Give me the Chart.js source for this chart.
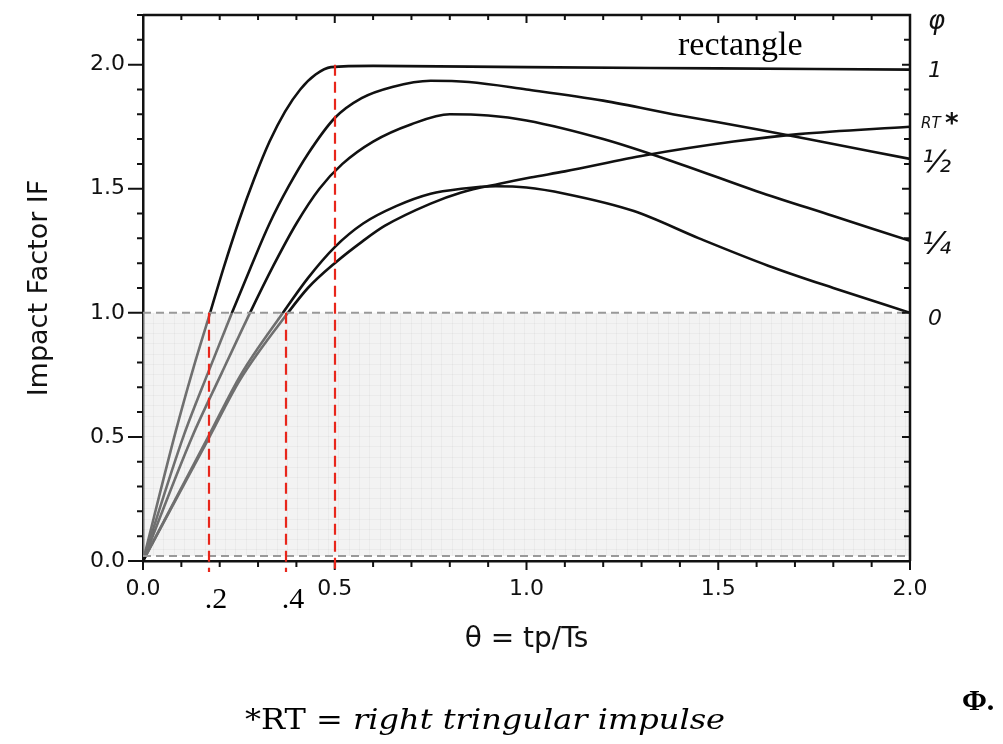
<!DOCTYPE html>
<html>
<head>
<meta charset="utf-8">
<script src="https://cdn.jsdelivr.net/npm/chart.js@4"></script>
<style>
html, body { margin: 0; padding: 0; background: #fff; }
canvas { display: block; }
</style>
</head>
<body>
<canvas id="impactChart" width="1003" height="744"></canvas>
<script>
// theta = tp/Ts against impact factor, one pair of arrays per pulse shape (phi)
var thetaRect = [0, 0.085, 0.13, 0.175, 0.21, 0.25, 0.29, 0.33, 0.37, 0.41, 0.45, 0.49, 0.6, 1.0, 1.5, 2.0];
var ifRect = [0, 0.52, 0.77, 1.00, 1.18, 1.37, 1.54, 1.69, 1.81, 1.90, 1.96, 1.99, 1.995, 1.99, 1.985, 1.98];

var thetaHalf = [0, 0.105, 0.17, 0.232, 0.28, 0.33, 0.38, 0.43, 0.5, 0.57, 0.65, 0.75, 0.85, 1.0, 1.2, 1.4, 1.6, 1.8, 2.0];
var ifHalf = [0, 0.50, 0.76, 1.00, 1.18, 1.36, 1.51, 1.64, 1.785, 1.865, 1.91, 1.935, 1.93, 1.90, 1.855, 1.795, 1.74, 1.68, 1.62];

var thetaQuarter = [0, 0.128, 0.206, 0.279, 0.34, 0.40, 0.46, 0.52, 0.6, 0.7, 0.8, 0.9, 1.0, 1.2, 1.4, 1.6, 1.8, 2.0];
var ifQuarter = [0, 0.50, 0.76, 1.00, 1.19, 1.36, 1.50, 1.60, 1.69, 1.76, 1.80, 1.795, 1.775, 1.70, 1.60, 1.49, 1.39, 1.29];

var thetaZero = [0, 0.17, 0.255, 0.365, 0.43, 0.5, 0.574, 0.66, 0.75, 0.83, 0.92, 1.0, 1.1, 1.28, 1.45, 1.63, 1.8, 2.0];
var ifZero = [0, 0.50, 0.75, 1.00, 1.14, 1.265, 1.36, 1.43, 1.48, 1.50, 1.51, 1.505, 1.48, 1.41, 1.30, 1.19, 1.10, 1.00];

var thetaRT = [0, 0.17, 0.253, 0.378, 0.43, 0.5, 0.574, 0.63, 0.75, 0.83, 0.93, 1.01, 1.10, 1.31, 1.54, 1.71, 2.0];
var ifRT = [0, 0.49, 0.73, 1.00, 1.10, 1.20, 1.29, 1.35, 1.44, 1.485, 1.52, 1.545, 1.57, 1.635, 1.69, 1.72, 1.75];

var phiLabels = ['1', '½', '¼', '0', 'RT'];

// red dashed markers: theta, top of the line, text under the axis
var markerTheta = [0.172, 0.373, 0.5];
var markerTop = [1.0, 1.0, 2.0];
var markerText = ['.2', '.4', ''];

// grey band
var bandLow = 0.02;
var bandHigh = 1.0;

function toPoints(xs, ys) {
    return xs.map(function (x, i) { return { x: x, y: ys[i] }; });
}

var seriesX = [thetaRect, thetaHalf, thetaQuarter, thetaZero, thetaRT];
var seriesY = [ifRect, ifHalf, ifQuarter, ifZero, ifRT];

var datasets = seriesX.map(function (xs, i) {
    return {
        label: phiLabels[i],
        data: toPoints(xs, seriesY[i]),
        borderColor: '#111',
        borderWidth: 2.6,
        pointRadius: 0,
        cubicInterpolationMode: 'monotone',
        fill: false
    };
});

var plotFont = 'DejaVu Sans';

var extrasPlugin = {
    id: 'extras',
    afterDatasetsDraw: function (chart) {
        var ctx = chart.ctx;
        var xs = chart.scales.x;
        var ys = chart.scales.y;

        // shaded band laid over the curves
        var x0 = xs.getPixelForValue(0), x1 = xs.getPixelForValue(2);
        var yTop = ys.getPixelForValue(bandHigh), yBot = ys.getPixelForValue(bandLow);
        ctx.save();
        ctx.fillStyle = 'rgba(228,228,228,0.45)';
        ctx.fillRect(x0, yTop, x1 - x0, yBot - yTop);
        ctx.strokeStyle = 'rgba(0,0,0,0.035)';
        ctx.lineWidth = 1;
        ctx.beginPath();
        for (var gx = x0 + 10; gx < x1; gx += 10.3) {
            ctx.moveTo(Math.round(gx) + 0.5, yTop);
            ctx.lineTo(Math.round(gx) + 0.5, yBot);
        }
        for (var gy = yTop + 10; gy < yBot; gy += 10.3) {
            ctx.moveTo(x0, Math.round(gy) + 0.5);
            ctx.lineTo(x1, Math.round(gy) + 0.5);
        }
        ctx.stroke();
        ctx.strokeStyle = '#999';
        ctx.lineWidth = 2;
        ctx.setLineDash([8, 5]);
        ctx.beginPath();
        ctx.moveTo(x0, yTop); ctx.lineTo(x1, yTop);
        ctx.moveTo(x0, yBot); ctx.lineTo(x1, yBot);
        ctx.stroke();
        ctx.restore();
    },
    afterDraw: function (chart) {
        var ctx = chart.ctx;
        var area = chart.chartArea;
        var xs = chart.scales.x;
        var ys = chart.scales.y;
        var i, px, py, major;

        ctx.save();
        // top and right frame
        ctx.strokeStyle = '#111';
        ctx.lineWidth = 2.5;
        ctx.beginPath();
        ctx.moveTo(area.left, area.top);
        ctx.lineTo(area.right, area.top);
        ctx.lineTo(area.right, area.bottom);
        ctx.stroke();

        // tick marks every 0.1
        ctx.lineWidth = 2;
        ctx.beginPath();
        for (i = 0; i <= 22; i++) {
            major = i % 5 === 0;
            if (i <= 20) {
                px = xs.getPixelForValue(i / 10);
                ctx.moveTo(px, area.bottom);
                ctx.lineTo(px, area.bottom + (major ? 9 : 6));
                ctx.moveTo(px, area.top);
                ctx.lineTo(px, area.top + (major ? 8 : 5));
            }
            py = ys.getPixelForValue(i / 10);
            ctx.moveTo(area.left - (major ? 15 : 6), py);
            ctx.lineTo(area.left, py);
            ctx.moveTo(area.right, py);
            ctx.lineTo(area.right - (major ? 8 : 6), py);
        }
        ctx.stroke();

        // red dashed markers
        ctx.strokeStyle = '#e8261b';
        ctx.lineWidth = 2.2;
        ctx.setLineDash([11, 6]);
        ctx.beginPath();
        for (i = 0; i < markerTheta.length; i++) {
            px = Math.round(xs.getPixelForValue(markerTheta[i]));
            ctx.moveTo(px, ys.getPixelForValue(markerTop[i]));
            ctx.lineTo(px, area.bottom + 11);
        }
        ctx.stroke();
        ctx.setLineDash([]);

        ctx.fillStyle = '#000';
        ctx.textAlign = 'center';
        ctx.textBaseline = 'alphabetic';
        ctx.font = '30px "Liberation Serif"';
        for (i = 0; i < markerTheta.length; i++) {
            if (markerText[i]) {
                ctx.fillText(markerText[i], xs.getPixelForValue(markerTheta[i]) + 7, area.bottom + 47);
            }
        }

        // phi labels at the right end of each curve
        ctx.textAlign = 'left';
        ctx.fillStyle = '#111';
        chart.data.datasets.forEach(function (ds, k) {
            var meta = chart.getDatasetMeta(k);
            var last = meta.data[meta.data.length - 1];
            var lx = area.right + 14;
            if (ds.label === 'RT') {
                ctx.font = 'italic 15px "DejaVu Sans"';
                ctx.fillText('RT', lx - 3, last.y + 1);
                ctx.font = 'bold 26px "DejaVu Sans"';
                ctx.fillText('*', lx + 21, last.y + 5);
            } else if (ds.label === '1') {
                ctx.font = 'italic 22px "DejaVu Sans"';
                ctx.fillText(ds.label, lx + 4, last.y + 7);
            } else if (ds.label === '0') {
                ctx.font = 'italic 22px "DejaVu Sans"';
                ctx.fillText(ds.label, lx + 4, last.y + 12);
            } else {
                ctx.font = 'italic 30px "DejaVu Sans"';
                ctx.fillText(ds.label, lx - 2, last.y + 13);
            }
        });
        ctx.font = 'italic 26px "DejaVu Sans"';
        ctx.fillText('φ', area.right + 18, area.top + 14);

        // "rectangle" note
        ctx.font = '34px "Liberation Serif"';
        ctx.fillStyle = '#000';
        ctx.fillText('rectangle', xs.getPixelForValue(1.395), ys.getPixelForValue(2.04));

        // footnote, stretched to the scanned width
        var w1, w2, total;
        ctx.font = '28px "DejaVu Serif"';
        w1 = ctx.measureText('*RT = ').width;
        ctx.font = 'italic 28px "DejaVu Serif"';
        w2 = ctx.measureText('right tringular impulse').width;
        total = w1 + w2;
        ctx.translate(245, 729);
        ctx.scale(480 / total, 1);
        ctx.font = '28px "DejaVu Serif"';
        ctx.fillText('*RT = ', 0, 0);
        ctx.font = 'italic 28px "DejaVu Serif"';
        ctx.fillText('right tringular impulse', w1, 0);
        ctx.restore();

        ctx.save();
        ctx.fillStyle = '#000';
        ctx.font = 'bold 30px "Liberation Serif"';
        ctx.textAlign = 'left';
        ctx.fillText('Φ.', 962, 710);
        ctx.restore();
    }
};

function oneDecimal(v) {
    return v.toFixed(1);
}

var ctx = document.getElementById('impactChart').getContext('2d');
var impactChart = new Chart(ctx, {
    type: 'line',
    data: { datasets: datasets },
    options: {
        responsive: false,
        animation: false,
        devicePixelRatio: 1,
        layout: { padding: { left: 0, right: 93, top: 15, bottom: 0 } },
        plugins: {
            legend: { display: false },
            tooltip: { enabled: false }
        },
        scales: {
            x: {
                type: 'linear',
                min: 0,
                max: 2,
                ticks: {
                    stepSize: 0.5,
                    padding: 15,
                    color: '#111',
                    font: { family: plotFont, size: 22 },
                    callback: oneDecimal
                },
                grid: { display: false, drawTicks: false },
                border: { display: true, color: '#111', width: 2.5 },
                title: {
                    display: true,
                    text: 'θ = tp/Ts',
                    color: '#111',
                    font: { family: plotFont, size: 28 },
                    padding: { top: 0, bottom: 87 }
                },
                afterFit: function (scale) {
                    scale.height = 183;
                }
            },
            y: {
                min: 0,
                max: 2.2,
                ticks: {
                    stepSize: 0.5,
                    padding: 18,
                    color: '#111',
                    font: { family: plotFont, size: 22 },
                    callback: oneDecimal
                },
                afterBuildTicks: function (scale) {
                    scale.ticks = scale.ticks.filter(function (t) { return t.value <= 2.0001; });
                },
                grid: { display: false, drawTicks: false },
                border: { display: true, color: '#111', width: 2.5 },
                title: {
                    display: true,
                    text: 'Impact Factor IF',
                    color: '#111',
                    font: { family: plotFont, size: 27 },
                    padding: { top: 24, bottom: 0 }
                },
                afterFit: function (scale) {
                    scale.width = 143;
                    scale.paddingTop = 0;
                    scale.paddingBottom = 0;
                }
            }
        }
    },
    plugins: [extrasPlugin]
});
</script>
</body>
</html>
